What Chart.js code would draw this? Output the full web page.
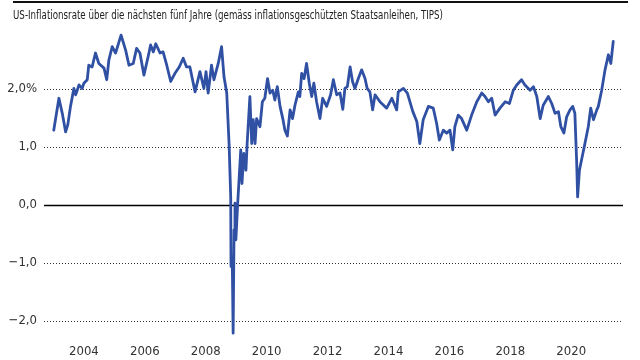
<!DOCTYPE html>
<html><head><meta charset="utf-8">
<script src="https://cdn.jsdelivr.net/npm/chart.js@4/dist/chart.umd.min.js"></script>
<style>html,body{margin:0;padding:0;background:#fff;}#wrap{width:640px;height:360px;position:relative;}</style>
</head><body><div id="wrap"><canvas id="c" width="640" height="360"></canvas></div>
<script>
const titleText = 'US-Inflationsrate über die nächsten fünf Jahre (gemäss inflationsgeschützten Staatsanleihen, TIPS)';
const dates = [2003.01,2003.18,2003.29,2003.40,2003.47,2003.56,2003.67,2003.73,2003.84,2003.94,
2004.00,2004.11,2004.16,2004.27,2004.38,2004.49,2004.66,2004.75,2004.82,2004.93,
2005.04,2005.22,2005.37,2005.48,2005.62,2005.73,2005.84,2005.97,2006.11,2006.19,
2006.28,2006.36,2006.50,2006.60,2006.72,2006.85,2006.99,2007.13,2007.26,2007.37,
2007.48,2007.65,2007.81,2007.94,2008.01,2008.08,2008.19,2008.27,2008.41,2008.52,
2008.60,2008.69,2008.77,2008.82,2008.83,2008.87,2008.90,2008.93,2008.96,2008.99,
2009.05,2009.10,2009.15,2009.19,2009.25,2009.32,2009.36,2009.45,2009.51,2009.56,
2009.62,2009.67,2009.78,2009.86,2009.94,2010.03,2010.11,2010.20,2010.27,2010.35,
2010.44,2010.53,2010.60,2010.68,2010.77,2010.85,2010.93,2011.04,2011.09,2011.15,
2011.23,2011.31,2011.40,2011.48,2011.55,2011.64,2011.75,2011.84,2011.97,2012.10,
2012.19,2012.30,2012.41,2012.50,2012.57,2012.65,2012.74,2012.82,2012.90,2013.01,
2013.12,2013.23,2013.30,2013.39,2013.48,2013.56,2013.72,2013.94,2014.11,2014.27,
2014.32,2014.49,2014.62,2014.80,2014.93,2015.03,2015.14,2015.31,2015.47,2015.58,
2015.67,2015.80,2015.91,2016.02,2016.11,2016.18,2016.29,2016.40,2016.57,2016.73,
2016.90,2017.06,2017.17,2017.28,2017.39,2017.50,2017.66,2017.83,2017.97,2018.10,
2018.21,2018.37,2018.48,2018.65,2018.76,2018.87,2018.98,2019.08,2019.25,2019.36,
2019.47,2019.58,2019.66,2019.76,2019.85,2019.96,2020.05,2020.12,2020.18,2020.21,
2020.27,2020.34,2020.45,2020.56,2020.64,2020.73,2020.84,2020.89,2021.00,2021.11,
2021.22,2021.30,2021.38];
const values = [1.29,1.84,1.58,1.26,1.38,1.70,2.01,1.90,2.07,2.01,
2.10,2.16,2.41,2.38,2.62,2.44,2.36,2.16,2.50,2.73,
2.62,2.93,2.67,2.41,2.44,2.70,2.62,2.24,2.56,2.76,
2.64,2.78,2.62,2.64,2.41,2.13,2.27,2.38,2.53,2.38,
2.38,1.95,2.30,2.01,2.30,1.93,2.41,2.16,2.44,2.73,
2.21,1.93,1.01,0.14,-1.06,-0.89,-2.21,-0.43,0.03,-0.60,
0.03,0.49,0.95,0.37,0.89,0.60,1.06,1.87,1.06,1.47,
1.06,1.49,1.35,1.78,1.84,2.18,1.93,1.98,1.81,2.04,
1.70,1.49,1.29,1.19,1.64,1.49,1.72,1.95,1.87,2.27,
2.18,2.44,2.10,1.87,2.10,1.78,1.49,1.84,1.70,1.90,
2.16,1.90,1.93,1.65,2.01,2.04,2.38,2.13,2.01,2.18,
2.33,2.18,2.01,1.95,1.64,1.90,1.78,1.67,1.84,1.64,
1.95,2.01,1.93,1.61,1.44,1.06,1.47,1.70,1.67,1.41,
1.12,1.29,1.24,1.29,0.95,1.35,1.55,1.49,1.29,1.55,
1.78,1.93,1.87,1.78,1.84,1.55,1.67,1.78,1.75,1.98,
2.07,2.16,2.07,1.98,2.04,1.87,1.49,1.72,1.87,1.75,
1.58,1.61,1.35,1.24,1.52,1.64,1.70,1.58,0.72,0.14,
0.60,0.78,1.06,1.35,1.67,1.47,1.64,1.70,1.98,2.33,
2.59,2.44,2.82];
const xTicks = [2004,2006,2008,2010,2012,2014,2016,2018,2020];
const yTicks = [-2,-1,0,1,2];
const yTickLabels = ['\u22122,0','\u22121,0','0,0','1,0','2,0%'];

const FONT = "'Liberation Sans Narrow','DejaVu Sans Condensed','Roboto Condensed',sans-serif";

const deco = {
  id: 'deco',
  beforeDatasetsDraw(chart) {
    const ctx = chart.ctx, ca = chart.chartArea, ys = chart.scales.y;
    ctx.save();
    yTicks.forEach(v => {
      const py = Math.round(ys.getPixelForValue(v));
      ctx.beginPath();
      if (v === 0) {
        ctx.setLineDash([]);
        ctx.strokeStyle = '#000';
        ctx.lineWidth = 1.4;
      } else {
        ctx.setLineDash([1, 2]);
        ctx.strokeStyle = '#333';
        ctx.lineWidth = 1;
      }
      ctx.moveTo(ca.left, py + 0.5); ctx.lineTo(ca.right, py + 0.5);
      ctx.stroke();
    });
    ctx.restore();
  },
  afterDraw(chart) {
    const ctx = chart.ctx;
    ctx.save();
    ctx.fillStyle = '#111';
    ctx.fillRect(13, 1, 615, 2);
    ctx.font = '13px ' + FONT;
    ctx.textBaseline = 'middle';
    ctx.fillStyle = '#222';
    ctx.fillText(titleText, 13, 16, 430);
    ctx.restore();
  }
};

new Chart(document.getElementById('c'), {
  type: 'line',
  data: {
    datasets: [{
      data: dates.map((d, i) => ({x: d, y: values[i]})),
      borderColor: '#2f50a3',
      borderWidth: 2.8,
      pointRadius: 0,
      tension: 0,
      borderJoinStyle: 'round',
      borderCapStyle: 'round',
      fill: false
    }]
  },
  options: {
    responsive: false,
    animation: false,
    devicePixelRatio: 1,
    layout: { padding: { top: 31, right: 17, left: 0, bottom: 0 } },
    plugins: { legend: { display: false }, tooltip: { enabled: false }, title: { display: false } },
    scales: {
      x: {
        type: 'linear',
        min: 2002.69, max: 2021.70,
        grid: { display: false, drawTicks: false },
        border: { display: false },
        afterBuildTicks(scale) { scale.ticks = xTicks.map(v => ({value: v})); },
        afterFit(scale) { scale.height = 21.6; },
        ticks: {
          autoSkip: false, maxRotation: 0, padding: 5,
          color: '#333',
          font: { family: FONT, size: 13 },
          callback: v => String(v)
        }
      },
      y: {
        min: -2.3, max: 3.0,
        grid: { display: false, drawTicks: false },
        border: { display: false },
        afterBuildTicks(scale) { scale.ticks = yTicks.map(v => ({value: v})); },
        afterFit(scale) { scale.width = 44; },
        ticks: {
          padding: 7,
          color: '#333',
          font: { family: FONT, size: 13 },
          callback: (v) => { const i = yTicks.indexOf(v); return i >= 0 ? yTickLabels[i] : ''; }
        }
      }
    }
  },
  plugins: [deco]
});
</script>
</body></html>
